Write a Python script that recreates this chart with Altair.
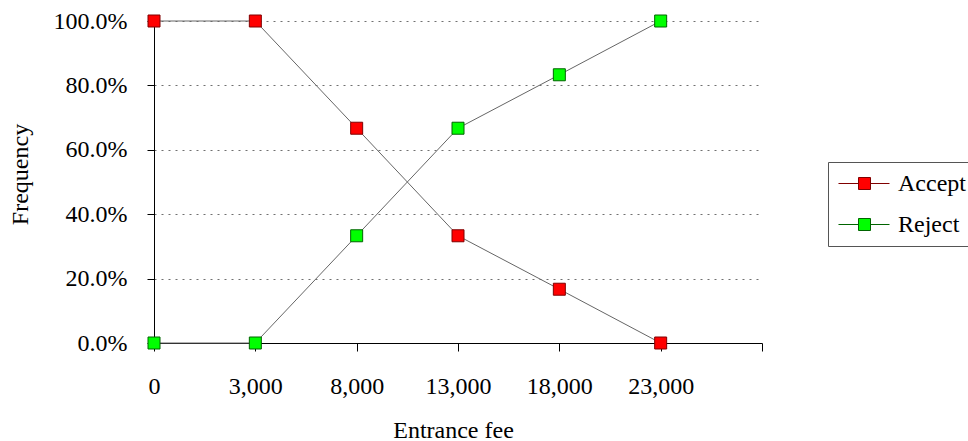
import altair as alt
import pandas as pd

fees = ["0", "3,000", "8,000", "13,000", "18,000", "23,000"]
accept = [1.0, 1.0, 0.667, 0.333, 0.167, 0.0]
reject = [0.0, 0.0, 0.333, 0.667, 0.833, 1.0]
series = ["Accept", "Reject"]
fills = ["#FF0000", "#00FF00"]
edges = ["#800000", "#006400"]

rows = []
for i, f in enumerate(fees):
    rows.append({"fee": f, "idx": i, "series": "Accept", "value": accept[i]})
    rows.append({"fee": f, "idx": i, "series": "Reject", "value": reject[i]})
df = pd.DataFrame(rows)

FONT = "'Liberation Serif', 'Times New Roman', 'DejaVu Serif', serif"
label_expr = "[" + ",".join(f"'{f}'" for f in fees) + ",''][datum.value]"

x_enc = alt.X(
    "idx:Q",
    scale=alt.Scale(domain=[0, len(fees)], nice=False, zero=False),
    axis=alt.Axis(
        values=list(range(len(fees) + 1)),
        labelExpr=label_expr,
        title="Entrance fee",
        grid=False,
        domainColor="black",
        tickColor="black",
        tickSize=8,
        labelPadding=23,
        labelFont=FONT,
        labelFontSize=24,
        labelColor="black",
        titleFont=FONT,
        titleFontSize=24,
        titleFontWeight="normal",
        titleColor="black",
        titleX=299,
        titleY=94,
        titleBaseline="alphabetic",
        titleAnchor="middle",
        labelFlush=False,
        labelOverlap=False,
    ),
)
y_enc = alt.Y(
    "value:Q",
    scale=alt.Scale(domain=[0, 1], nice=False),
    axis=alt.Axis(
        values=[0, 0.2, 0.4, 0.6, 0.8, 1.0],
        format=".1%",
        title="Frequency",
        grid=True,
        gridColor="#707070",
        gridDash=[2, 5],
        gridWidth=1,
        domainColor="black",
        tickColor="black",
        tickSize=7,
        labelPadding=20,
        labelFont=FONT,
        labelFontSize=24,
        labelColor="black",
        titleFont=FONT,
        titleFontSize=24,
        titleFontWeight="normal",
        titleColor="black",
        titleX=-134,
        titleY=153,
        titleBaseline="middle",
        titleAngle=270,
    ),
)

legend_path = "M-0.917,0H0.75M1.75,0H3.333M0.75,-0.5H1.75V0.5H0.75Z"

lines = alt.Chart(df).mark_line(color="#666666", strokeWidth=1).encode(
    x=x_enc, y=y_enc, detail="series:N"
)
points = alt.Chart(df).mark_square(size=144, strokeWidth=1, opacity=1, fillOpacity=1).encode(
    x=x_enc,
    y=y_enc,
    fill=alt.Fill(
        "series:N",
        scale=alt.Scale(domain=series, range=fills),
        legend=alt.Legend(
            title=None,
            orient="none",
            legendX=674,
            legendY=141,
            symbolType=legend_path,
            symbolSize=576,
            symbolStrokeColor="#444444",
            symbolStrokeWidth=1,
            labelFont=FONT,
            labelFontSize=24,
            labelColor="black",
            labelOffset=36,
            strokeColor="#555555",
            fillColor="white",
            padding=9,
            rowPadding=16,
        ),
    ),
    stroke=alt.Stroke("series:N", scale=alt.Scale(domain=series, range=edges), legend=None),
)

chart = (
    alt.layer(lines, points)
    .properties(
        width=608,
        height=322,
        autosize=alt.AutoSizeParams(type="none"),
        padding={"left": 154, "top": 21, "right": 206, "bottom": 98},
        background="white",
    )
    .configure_view(stroke=None)
)

chart.save("out.html", embed_options={"renderer": "svg", "actions": False})
